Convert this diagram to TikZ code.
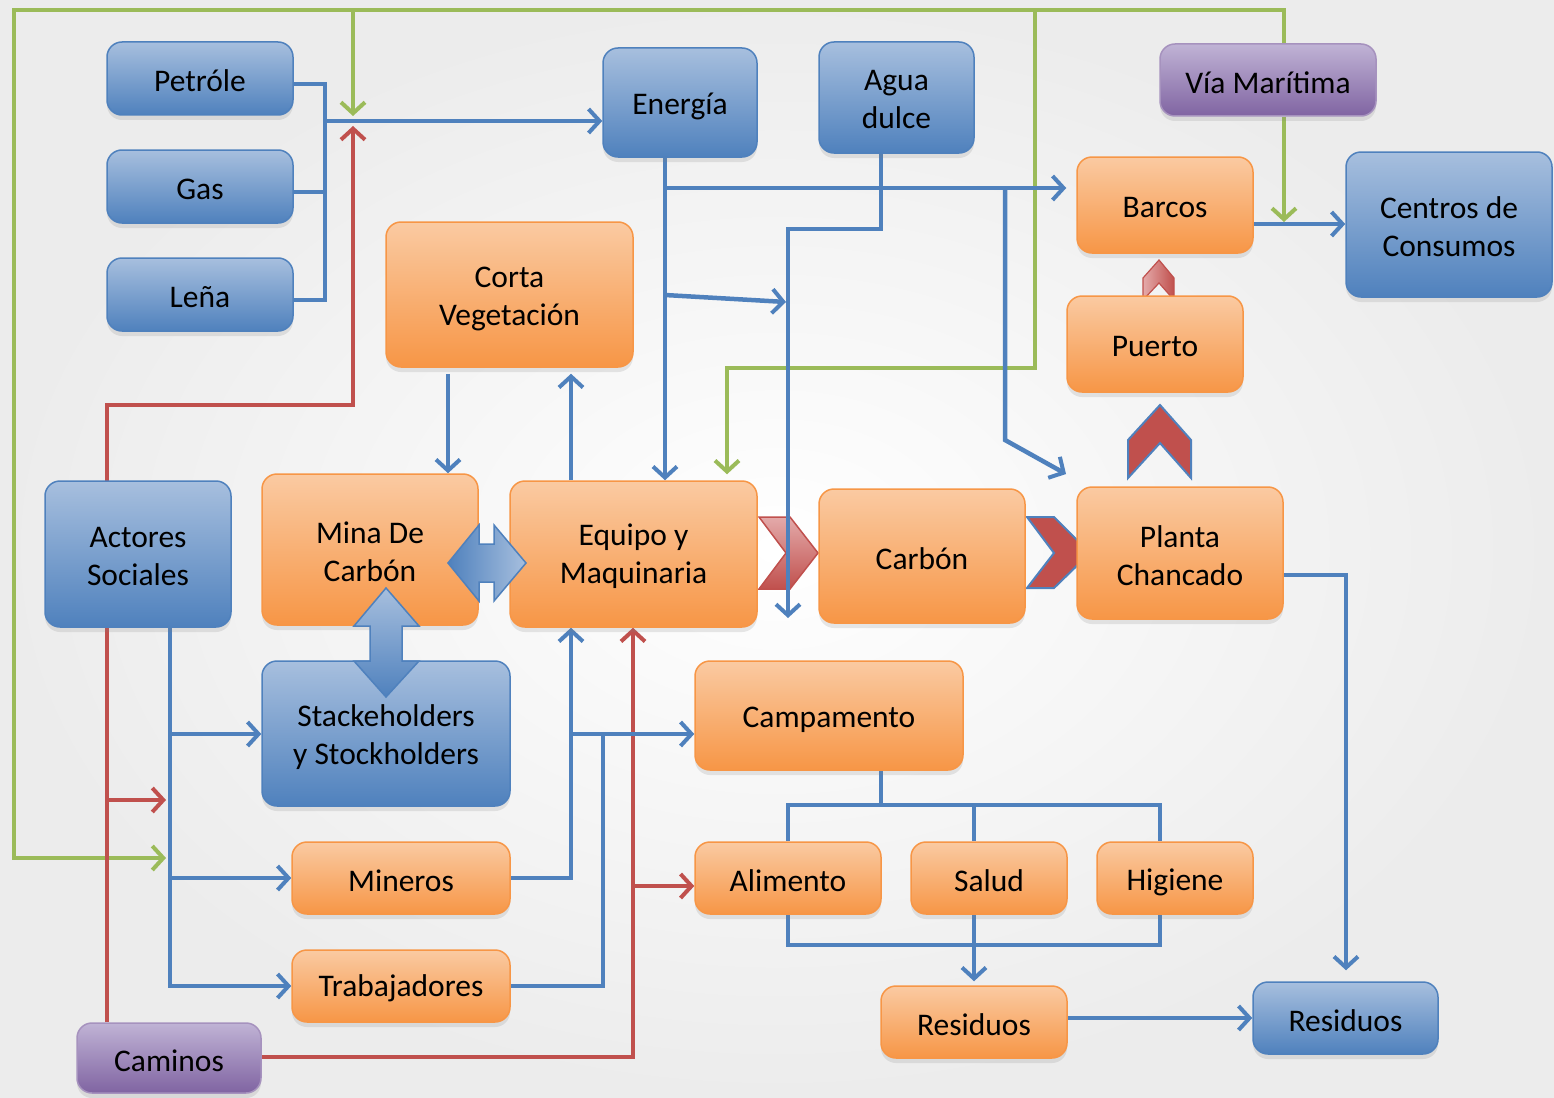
\documentclass[tikz,border=0pt]{standalone}
\usepackage{fontspec}
\setmainfont{Carlito}
\usetikzlibrary{arrows.meta,shadows}
\definecolor{bline}{RGB}{79,129,189}
\definecolor{gline}{RGB}{155,187,89}
\definecolor{rline}{RGB}{192,80,77}
\definecolor{btop}{RGB}{167,191,222}
\definecolor{bbot}{RGB}{79,129,189}
\definecolor{otop}{RGB}{250,202,162}
\definecolor{obot}{RGB}{247,150,70}
\definecolor{ptop}{RGB}{192,179,213}
\definecolor{pbot}{RGB}{128,100,162}
\definecolor{pinkl}{RGB}{228,170,170}
\definecolor{bgout}{RGB}{236,236,236}
\pgfdeclarelayer{Lzero}
\pgfdeclarelayer{Lone}
\pgfdeclarelayer{Ltwo}
\pgfsetlayers{Lzero,Lone,Ltwo,main}
\begin{document}
\begin{tikzpicture}[x=1pt,y=-1pt,
  box/.style={rounded corners=15pt, line width=1.5pt, inner sep=0pt,
    drop shadow={shadow xshift=0pt, shadow yshift=-5pt, opacity=0.18}},
  txt/.style={font=\fontsize{31.5}{38}\selectfont, align=center, text=black, inner sep=0pt},
  tx/.style={label={[txt,yshift=-2.5pt]center:{#1}}},
  txd/.style={label={[txt,yshift=-4pt]center:{#1}}},
  bbox/.style={box, draw=bline, top color=btop, bottom color=bbot},
  obox/.style={box, draw=obot, top color=otop, bottom color=obot},
  pbox/.style={box, draw=pbot!70, top color=ptop, bottom color=pbot},
  bl/.style={draw=bline, line width=4.5pt},
  gr/.style={draw=gline, line width=4.5pt},
  rd/.style={draw=rline, line width=4.5pt},
  arr/.style={-{Straight Barb[length=11pt,width=24pt,line width=4pt]}},
]
\useasboundingbox (0,0) rectangle (1554,1097);
\begin{pgfonlayer}{Lzero}
\shade[inner color=white, outer color=bgout] (0,0) rectangle (1554,1097);
\end{pgfonlayer}

% nodes
\node[bbox, minimum width=186pt, minimum height=73pt, tx={Petróle}] (pet) at (200,78.5) {};
\node[bbox, minimum width=186pt, minimum height=73pt, tx={Gas}] (gas) at (200,186.5) {};
\node[bbox, minimum width=186pt, minimum height=73pt, tx={Leña}] (lena) at (200,294.5) {};
\node[bbox, minimum width=154pt, minimum height=109pt, txd={Energía}] (ene) at (680,102.5) {};
\node[bbox, minimum width=155pt, minimum height=111pt, tx={Agua\\dulce}] (agua) at (896.5,97.5) {};
\node[pbox, minimum width=216pt, minimum height=72pt, tx={Vía Marítima}] (via) at (1268,80) {};
\node[obox, minimum width=176pt, minimum height=96pt, tx={Barcos}] (barcos) at (1165,205) {};
\node[bbox, minimum width=206pt, minimum height=145pt, tx={Centros de\\Consumos}] (centros) at (1449,224.5) {};
\node[obox, minimum width=247pt, minimum height=145pt, txd={Corta\\Vegetación}] (corta) at (509.5,294.5) {};
\node[obox, minimum width=176pt, minimum height=96pt, tx={Puerto}] (puerto) at (1155,344) {};
\node[bbox, minimum width=186pt, minimum height=146pt, tx={Actores\\Sociales}] (actores) at (138,554) {};
\node[obox, minimum width=216pt, minimum height=151pt, tx={Mina De\\Carbón}] (mina) at (370,549.5) {};
\node[obox, minimum width=247pt, minimum height=146pt, tx={Equipo y\\Maquinaria}] (equipo) at (633.5,554) {};
\node[obox, minimum width=206pt, minimum height=134pt, tx={Carbón}] (carbon) at (922,556) {};
\node[obox, minimum width=206pt, minimum height=132pt, tx={Planta\\Chancado}] (planta) at (1180,553) {};
\node[bbox, minimum width=248pt, minimum height=145pt, txd={Stackeholders\\y Stockholders}] (stake) at (386,733.5) {};
\node[obox, minimum width=268pt, minimum height=109pt, txd={Campamento}] (camp) at (829,715.5) {};
\node[obox, minimum width=218pt, minimum height=72pt, tx={Mineros}] (mineros) at (401,878) {};
\node[obox, minimum width=218pt, minimum height=72pt, tx={Trabajadores}] (trab) at (401,986) {};
\node[obox, minimum width=186pt, minimum height=72pt, tx={Alimento}] (alim) at (788,878) {};
\node[obox, minimum width=156pt, minimum height=72pt, tx={Salud}] (salud) at (989,878) {};
\node[obox, minimum width=156pt, minimum height=72pt, txd={Higiene}] (hig) at (1175,878) {};
\node[obox, minimum width=186pt, minimum height=72pt, tx={Residuos}] (resa) at (974,1022) {};
\node[bbox, minimum width=185pt, minimum height=72pt, tx={Residuos}] (resb) at (1345.5,1018) {};
\node[pbox, minimum width=184pt, minimum height=70pt, tx={Caminos}] (caminos) at (169,1058) {};

% chevrons
\begin{pgfonlayer}{Lone}
\path[top color=pinkl, bottom color=rline, draw=rline, line width=1.5pt]
  (759,517) -- (790,517) -- (818,553) -- (790,589) -- (759,589) -- (786,553) -- cycle;
\path[fill=rline, draw=bline, line width=2pt]
  (1027,517) -- (1054,517) -- (1090,553) -- (1054,588) -- (1027,588) -- (1054,553) -- cycle;
\path[fill=rline, draw=bline, line width=2pt]
  (1160,405) -- (1191,440) -- (1191,478) -- (1160,443) -- (1128,478) -- (1128,440) -- cycle;
\path[left color=pinkl, right color=rline, draw=rline, line width=1.2pt]
  (1159,260) -- (1174,278) -- (1174,300) -- (1159,283) -- (1143,300) -- (1143,278) -- cycle;
\end{pgfonlayer}

% connectors
\begin{pgfonlayer}{Ltwo}
% green
\draw[gr,arr] (via.north -| 1284,0) -- (1284,10) -- (14,10) -- (14,858) -- (166,858);
\draw[gr,arr] (353,10) -- (353,116);
\draw[gr,arr,shorten >=6pt] (1035,10) -- (1035,368) -- (727,368) -- (equipo.north -| 727,0);
\draw[gr,arr] (via.south -| 1284,0) -- (1284,222);
% red
\draw[rd,arr] (caminos.north -| 107,0) -- (107,405) -- (353,405) -- (353,126);
\draw[rd,arr] (107,800) -- (166,800);
\draw[rd,arr] (caminos.east |- 0,1057) -| (equipo.south -| 633,0);
\draw[rd,arr] (633,886) -- (alim.west |- 0,886);
% blue
\draw[bl] (pet.east |- 0,84) -- (325,84) -- (325,300) -- (lena.east |- 0,300);
\draw[bl] (gas.east |- 0,192) -- (325,192);
\draw[bl,arr] (325,121) -- (ene.west |- 0,121);
\draw[bl,arr] (ene.south -| 665,0) -- (equipo.north -| 665,0);
\draw[bl,arr,shorten >=10pt] (665,188) -- (barcos.west |- 0,188);
\draw[bl,arr] (665,295) -- (786,302);
\draw[bl,arr] (agua.south -| 881,0) -- (881,229) -- (788,229) -- (788,618);
\draw[bl,arr] (1005,188) -- (1005,440) -- (1066,474);
\draw[bl,arr,shorten <=6pt] (corta.south -| 448,0) -- (mina.north -| 448,0);
\draw[bl,arr,shorten >=6pt] (equipo.north -| 571,0) -- (corta.south -| 571,0);
\draw[bl,arr] (actores.south -| 170,0) |- (trab.west);
\draw[bl,arr] (170,734) -- (stake.west |- 0,734);
\draw[bl,arr] (170,878) -- (mineros.west);
\draw[bl,arr] (mineros.east) -| (equipo.south -| 571,0);
\draw[bl] (trab.east) -| (603,734);
\draw[bl,arr] (571,734) -- (camp.west |- 0,734);
\draw[bl] (camp.south -| 881,0) -- (881,805);
\draw[bl] (alim.north -| 788,0) |- (1160,805) -- (hig.north -| 1160,0);
\draw[bl] (974,805) -- (salud.north -| 974,0);
\draw[bl] (alim.south -| 788,0) |- (1160,945) -- (hig.south -| 1160,0);
\draw[bl] (salud.south -| 974,0) -- (974,945);
\draw[bl,arr,shorten >=4pt] (974,945) -- (resa.north);
\draw[bl,arr] (resa.east |- 0,1018) -- (resb.west |- 0,1018);
\draw[bl,arr,shorten >=11pt] (planta.east |- 0,575) -| (resb.north -| 1346,0);
\draw[bl,arr] (barcos.east |- 0,224) -- (centros.west |- 0,224);
\end{pgfonlayer}

% block double arrows
\path[left color=bbot, right color=btop, draw=bline, line width=1.5pt]
  (448,563) -- (479,525) -- (479,544) -- (494,544) -- (494,525) -- (526,563)
  -- (494,601) -- (494,582) -- (479,582) -- (479,601) -- cycle;
\path[top color=btop, bottom color=bbot, draw=bline, line width=1.5pt]
  (386,588) -- (419,626) -- (402,626) -- (402,661) -- (419,661) -- (386,697)
  -- (354,661) -- (370,661) -- (370,626) -- (354,626) -- cycle;
\end{tikzpicture}
\end{document}
